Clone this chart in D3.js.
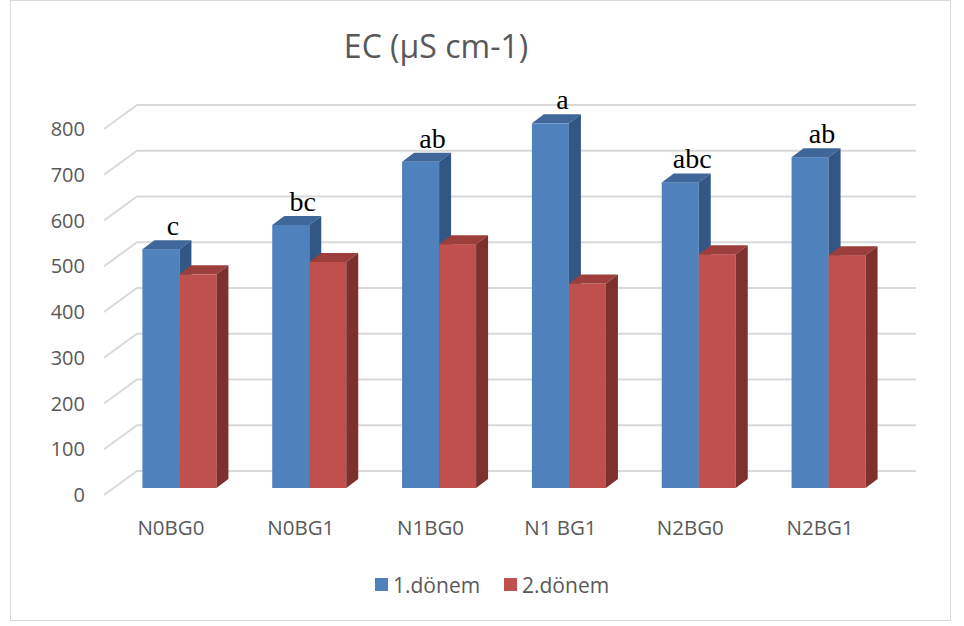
<!DOCTYPE html>
<html>
<head>
<meta charset="utf-8">
<script src="https://cdn.jsdelivr.net/npm/d3@7"></script>
<style>
  html, body { margin: 0; padding: 0; background: #fff; }
  svg { display: block; }
</style>
</head>
<body>
<svg id="chart" width="964" height="626"></svg>
<script>
// ---- data ----
const categories = ["N0BG0", "N0BG1", "N1BG0", "N1 BG1", "N2BG0", "N2BG1"];
const seriesNames = ["1.dönem", "2.dönem"];
const period1 = [522, 575, 713, 797, 668, 723];
const period2 = [467, 494, 533, 447, 511, 509];
const letters = ["c", "bc", "ab", "a", "abc", "ab"];
const yTicks = [0, 100, 200, 300, 400, 500, 600, 700, 800];
const titleText = "EC (µS cm-1)";

// ---- styles ----
const colors = [
  { front: "#4F81BD", top: "#3F6799", side: "#325784" },
  { front: "#C0504D", top: "#9C3E3B", side: "#7E302E" }
];
const gridColor = "#D9D9D9";
const textColor = "#595959";
const sansFont = "'Open Sans', Lato, sans-serif";
const serifFont = "'Liberation Serif', 'DejaVu Serif', serif";

const svg = d3.select("#chart");

// outer border
svg.append("rect").attr("x", 10.5).attr("y", 0.5).attr("width", 940).attr("height", 620)
  .attr("fill", "#fff").attr("stroke", gridColor).attr("stroke-width", 1);

// geometry (oblique projection)
const floorFrontY = 495;         // value 0 at front of floor
const wallDX = 33, wallDY = -24; // floor front -> back wall offset
const barDX = 10.5, barDY = -7;  // floor front -> bar front plane
const depthDX = 12, depthDY = -9; // bar depth
const yH = d3.scaleLinear().domain([0, 800]).range([0, 366]);
const x = d3.scaleBand().domain(categories).range([104, 883]).paddingInner(0).paddingOuter(0);
const barW = x.bandwidth() * 0.285;

// gridlines
const grid = svg.append("g");
yTicks.forEach(v => {
  const yf = floorFrontY - yH(v);
  const xb0 = 104 + wallDX, yb = yf + wallDY;
  grid.append("path")
    .attr("d", `M${104},${yf} L${xb0},${yb} L${883 + wallDX},${yb}`)
    .attr("fill", "none").attr("stroke", gridColor).attr("stroke-width", 2);
});

// y axis labels
svg.append("g").selectAll("text").data(yTicks).join("text")
  .attr("x", 85).attr("y", v => floorFrontY - yH(v))
  .attr("dy", "0.36em")
  .attr("text-anchor", "end")
  .attr("font-family", sansFont).attr("font-size", 20).attr("fill", textColor)
  .text(v => v);

// bars
const barsG = svg.append("g");
function drawBar(g, x0, value, c) {
  const yb = floorFrontY + barDY;
  const yt = yb - yH(value);
  const x1 = x0 + barW;
  g.append("rect").attr("x", x0).attr("y", yt).attr("width", barW).attr("height", yb - yt)
    .attr("fill", c.front);
  g.append("path")
    .attr("d", `M${x0},${yt} L${x0 + depthDX},${yt + depthDY} L${x1 + depthDX},${yt + depthDY} L${x1},${yt} Z`)
    .attr("fill", c.top);
  g.append("path")
    .attr("d", `M${x1},${yt} L${x1 + depthDX},${yt + depthDY} L${x1 + depthDX},${yb + depthDY} L${x1},${yb} Z`)
    .attr("fill", c.side);
}
categories.forEach((cat, i) => {
  const center = x(cat) + x.bandwidth() / 2 + barDX;
  const g = barsG.append("g");
  drawBar(g, center - barW, period1[i], colors[0]);
  drawBar(g, center, period2[i], colors[1]);
  const yt = floorFrontY + barDY - yH(period1[i]) + depthDY;
  svg.append("text")
    .attr("x", center - barW / 2 + 12)
    .attr("y", yt - 5)
    .attr("text-anchor", "middle")
    .attr("font-family", serifFont).attr("font-size", 28).attr("fill", "#000")
    .text(letters[i]);
});

// x labels
svg.append("g").selectAll("text").data(categories).join("text")
  .attr("x", d => x(d) + x.bandwidth() / 2 + 2)
  .attr("y", 535)
  .attr("text-anchor", "middle")
  .attr("font-family", sansFont).attr("font-size", 20.5).attr("fill", textColor)
  .text(d => d);

// title
svg.append("text")
  .attr("x", 436).attr("y", 58)
  .attr("text-anchor", "middle")
  .attr("font-family", sansFont).attr("font-size", 32).attr("fill", textColor)
  .text(titleText);

// legend
const legendX = [375, 504];
const lg = svg.append("g");
seriesNames.forEach((name, i) => {
  lg.append("rect").attr("x", legendX[i]).attr("y", 578).attr("width", 13).attr("height", 13)
    .attr("fill", colors[i].front);
  lg.append("text").attr("x", legendX[i] + 18).attr("y", 592.5)
    .attr("font-family", sansFont).attr("font-size", 21).attr("fill", textColor)
    .text(name);
});
</script>
</body>
</html>
